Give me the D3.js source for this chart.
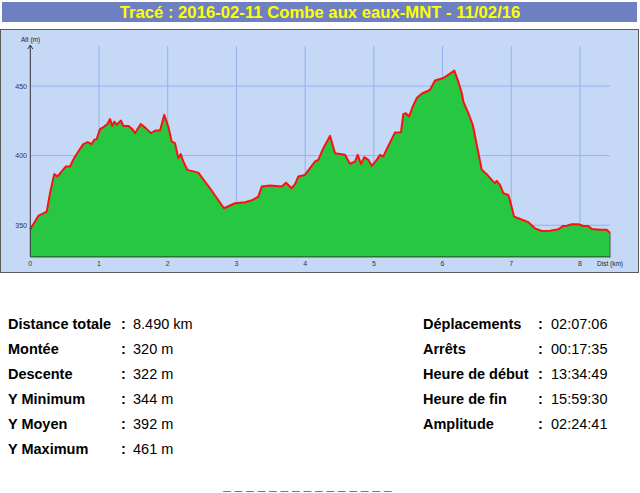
<!DOCTYPE html>
<html><head><meta charset="utf-8">
<script src="https://cdn.jsdelivr.net/npm/d3@7"></script>
<style>
html,body{margin:0;padding:0;background:#fff;overflow:hidden;}
svg{display:block;}
</style></head>
<body>
<script>
// ---- DATA ----
const titleText = "Tracé : 2016-02-11 Combe aux eaux-MNT - 11/02/16";
const distKm = [0,0.116,0.239,0.287,0.349,0.393,0.515,0.578,0.636,0.699,0.771,0.835,0.894,0.931,0.966,1.014,1.077,1.126,1.160,1.193,1.223,1.257,1.320,1.354,1.426,1.484,1.524,1.607,1.680,1.757,1.825,1.888,1.950,2.008,2.058,2.106,
2.154,2.189,2.227,2.285,2.445,2.615,2.819,2.979,3.125,3.237,3.318,3.368,3.489,3.659,3.721,3.804,3.852,3.900,3.998,4.071,4.143,4.192,
4.264,4.362,4.435,4.580,4.653,4.726,4.765,4.813,4.861,4.919,4.969,5.042,5.090,5.138,5.187,5.283,5.308,5.395,5.429,5.464,5.512,5.560,5.624,5.696,5.734,5.817,5.890,6.011,6.098,6.171,6.220,6.279,
6.302,6.375,6.439,6.497,6.570,6.642,6.715,6.763,6.788,6.836,6.884,6.957,6.992,7.040,7.102,7.248,7.345,7.443,7.564,7.685,7.757,7.807,7.880,7.976,8.048,8.121,8.171,8.291,8.389,8.437];
const altM = [347.1,356.7,359.8,373.0,386.9,385.0,392.2,392.2,398.2,403.0,408.3,409.7,408.3,411.4,411.9,419.1,420.9,422.9,426.3,421.4,424.5,422.2,425.2,421.4,421.4,419.1,416.2,422.7,419.8,416.2,418.1,418.1,429.3,420.9,410.1,409.0,
398.2,401.1,395.8,389.8,387.8,376.6,362.2,365.8,366.5,368.2,370.6,377.8,378.5,377.8,380.6,376.6,379.5,385.0,386.2,391.0,395.8,397.0,
405.4,414.2,401.8,400.6,394.1,395.8,400.6,394.1,398.9,397.0,392.7,397.0,400.6,399.4,404.7,414.2,416.6,416.9,429.9,430.6,428.1,434.6,441.4,444.5,445.4,447.3,454.0,455.8,458.6,461.2,454.5,445.0,
438.9,430.6,422.2,407.8,389.8,386.7,382.6,380.2,381.9,379.0,373.0,371.8,365.8,356.2,355.0,352.2,347.8,345.9,346.1,347.1,349.5,349.7,350.7,350.7,349.5,349.5,347.3,346.8,346.8,344.5];
const xTicks = [0,1,2,3,4,5,6,7,8];
const yTicks = [350,400,450];
const statsLeft = [["Distance totale","8.490 km"],["Montée","320 m"],["Descente","322 m"],["Y Minimum","344 m"],["Y Moyen","392 m"],["Y Maximum","461 m"]];
const statsRight = [["Déplacements","02:07:06"],["Arrêts","00:17:35"],["Heure de début","13:34:49"],["Heure de fin","15:59:30"],["Amplitude","02:24:41"]];

// ---- DRAW ----
const W = 640, H = 493;
const svg = d3.select("body").append("svg").attr("width", W).attr("height", H);

// title bar
svg.append("rect").attr("x",2).attr("y",2).attr("width",635).attr("height",20).attr("fill","#6f80c2");
svg.append("text").attr("x",320).attr("y",18).attr("text-anchor","middle")
  .attr("font-family","'Liberation Sans Narrow','Arial Narrow',sans-serif").attr("font-weight","bold")
  .attr("font-size",16.7).attr("fill","#ffff00").text(titleText);

// chart panel
svg.append("rect").attr("x",0.5).attr("y",29.5).attr("width",638).attr("height",243)
  .attr("fill","#c5d9f7").attr("stroke","#5a5a5a");

const x = d3.scaleLinear().domain([0,8]).range([30.3,580]);
const y = d3.scaleLinear().domain([327.4,478.8]).range([256.7,46]);
const base = y.domain()[0];
const gridColor = "#98afee";

// grid
svg.append("g").selectAll("line").data(xTicks.slice(1)).join("line")
  .attr("x1",d=>x(d)).attr("x2",d=>x(d)).attr("y1",y(478.8)).attr("y2",y(base))
  .attr("stroke",gridColor).attr("stroke-width",1);
svg.append("g").selectAll("line").data(yTicks).join("line")
  .attr("x1",x(0)).attr("x2",610).attr("y1",d=>y(d)).attr("y2",d=>y(d))
  .attr("stroke",gridColor).attr("stroke-width",1);

const pts = distKm.map((d,i)=>[d,altM[i]]);
const area = d3.area().x(d=>x(d[0])).y0(y(base)).y1(d=>y(d[1]));
const line = d3.line().x(d=>x(d[0])).y(d=>y(d[1]));
svg.append("path").datum(pts).attr("d",area).attr("fill","#27c742");
svg.append("path").datum(pts).attr("d",line).attr("fill","none").attr("stroke","#ff1010").attr("stroke-width",2).attr("stroke-linejoin","round");

// axes
svg.append("line").attr("x1",x(0)).attr("x2",x(distKm[distKm.length-1])).attr("y1",y(base)).attr("y2",y(base))
  .attr("stroke","#1f7a2a").attr("stroke-width",1.5);
svg.append("line").attr("x1",x(0)).attr("x2",x(0)).attr("y1",y(base)).attr("y2",y(478.8)-1)
  .attr("stroke","#333").attr("stroke-width",1);
svg.append("path").attr("d",`M${x(0)-2.5},${y(478.8)+3} L${x(0)},${y(478.8)-1} L${x(0)+2.5},${y(478.8)+3}`)
  .attr("fill","none").attr("stroke","#333");
const lastX = x(distKm[distKm.length-1]);
svg.append("line").attr("x1",lastX).attr("x2",lastX).attr("y1",y(altM[altM.length-1])).attr("y2",y(base)+1)
  .attr("stroke","#555").attr("stroke-width",1);

const tickFont = "'Liberation Sans',Arial,sans-serif";
svg.append("g").selectAll("text").data(xTicks).join("text")
  .attr("x",d=>x(d)).attr("y",266).attr("text-anchor","middle")
  .attr("font-family",tickFont).attr("font-size",7).attr("fill","#333").text(d=>d);
svg.append("g").selectAll("text").data(yTicks).join("text")
  .attr("x",27).attr("y",d=>y(d)+2.5).attr("text-anchor","end")
  .attr("font-family",tickFont).attr("font-size",7).attr("fill","#333").text(d=>d);
svg.append("text").attr("x",21).attr("y",42).attr("font-family",tickFont).attr("font-size",6.5).attr("fill","#222").text("Alt (m)");
svg.append("text").attr("x",597).attr("y",266).attr("font-family",tickFont).attr("font-size",6.5).attr("fill","#222").text("Dist (km)");

// stats
const sf = "'Liberation Sans',Arial,sans-serif";
const fs = 14.5;
function stats(rows, xl, xc, xv){
  const g = svg.append("g");
  rows.forEach((r,i)=>{
    const yy = 329 + i*25;
    g.append("text").attr("x",xl).attr("y",yy).attr("font-family",sf).attr("font-size",fs).attr("font-weight","bold").attr("fill","#000").text(r[0]);
    g.append("text").attr("x",xc).attr("y",yy).attr("font-family",sf).attr("font-size",fs).attr("font-weight","bold").attr("fill","#000").text(":");
    g.append("text").attr("x",xv).attr("y",yy).attr("font-family",sf).attr("font-size",fs).attr("fill","#000").text(r[1]);
  });
}
stats(statsLeft, 8, 121, 133);
stats(statsRight, 423, 538, 551);

svg.append("text").attr("x",223).attr("y",490).attr("font-family",sf).attr("font-size",14).attr("font-weight","bold")
  .attr("letter-spacing",3.7).attr("fill","#000").text("_______________");
</script>
</body></html>
